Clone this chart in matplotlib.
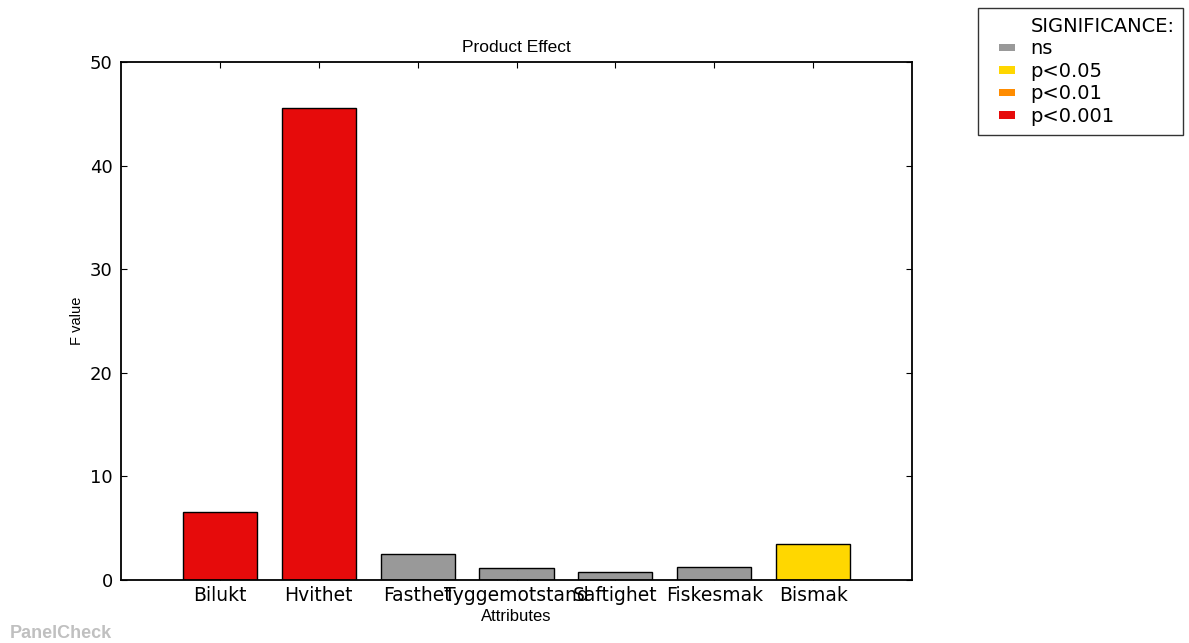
import matplotlib
matplotlib.use("Agg")
import matplotlib.pyplot as plt
from matplotlib.patches import Patch, Rectangle
from matplotlib.legend_handler import HandlerPatch

attributes = ["Bilukt", "Hvithet", "Fasthet", "Tyggemotstand", "Saftighet", "Fiskesmak", "Bismak"]
f_values = [6.6, 45.6, 2.5, 1.2, 0.8, 1.3, 3.5]
significance = ["p<0.001", "p<0.001", "ns", "ns", "ns", "ns", "p<0.05"]
sig_levels = ["ns", "p<0.05", "p<0.01", "p<0.001"]
sig_colors = {"ns": "#999999", "p<0.05": "#FFD700", "p<0.01": "#FF8C00", "p<0.001": "#E60B0B"}

fig = plt.figure(figsize=(11.89, 6.43), dpi=100)
ax = fig.add_axes([121/1189, 1 - 580/643, (912-121)/1189, (580-62)/643])

x = list(range(len(attributes)))
ax.bar(x, f_values, width=0.75, color=[sig_colors[s] for s in significance],
       edgecolor="black", linewidth=1.0, zorder=2)
ax.set_xlim(-1, len(attributes))
ax.set_ylim(0, 50)
ax.set_yticks([0, 10, 20, 30, 40, 50])
ax.set_xticks(x)
ax.set_xticklabels(attributes)
ax.tick_params(direction="in", top=True, right=True, length=4, width=0.8)
ax.tick_params(axis="x", pad=4, labelsize=13.5)
ax.tick_params(axis="y", pad=6, labelsize=13)
for s in ax.spines.values():
    s.set_linewidth(1.3)
for t in ax.get_xticklabels() + ax.get_yticklabels():
    t.set_fontfamily("DejaVu Sans")
ax.set_title("Product Effect", fontsize=12.5, family="Liberation Sans", pad=7)
ax.set_xlabel("Attributes", fontsize=12, family="Liberation Sans", labelpad=3.5)
ax.set_ylabel("F value", fontsize=10.5, family="Liberation Sans", labelpad=4)


def right_patch(legend, orig_handle, xdescent, ydescent, width, height, fontsize):
    w = width * 0.55
    h = height * 0.55
    return Rectangle((-xdescent + width - w, -ydescent + (height - h) / 2), w, h)


handles = [Patch(facecolor="none", edgecolor="none")] + [Patch(facecolor=sig_colors[s], edgecolor="none") for s in sig_levels]
labels = ["SIGNIFICANCE:"] + sig_levels
leg = fig.legend(handles, labels, loc="upper left", bbox_to_anchor=(978/1189, 1 - 8/643),
                 prop={"family": "DejaVu Sans", "size": 14}, frameon=True, fancybox=False,
                 edgecolor="black", handlelength=1.45, handleheight=0.7, handletextpad=0.8,
                 borderpad=0.45, labelspacing=0.18, borderaxespad=0,
                 handler_map={Patch: HandlerPatch(patch_func=right_patch)})
leg.get_frame().set_linewidth(1.0)

fig.text(10/1189, 1 - 633/643, "PanelCheck", fontsize=13, fontweight="bold", color="#C0C0C0",
         family="Liberation Sans", va="center", ha="left")

fig.savefig("out.png", dpi=100)
